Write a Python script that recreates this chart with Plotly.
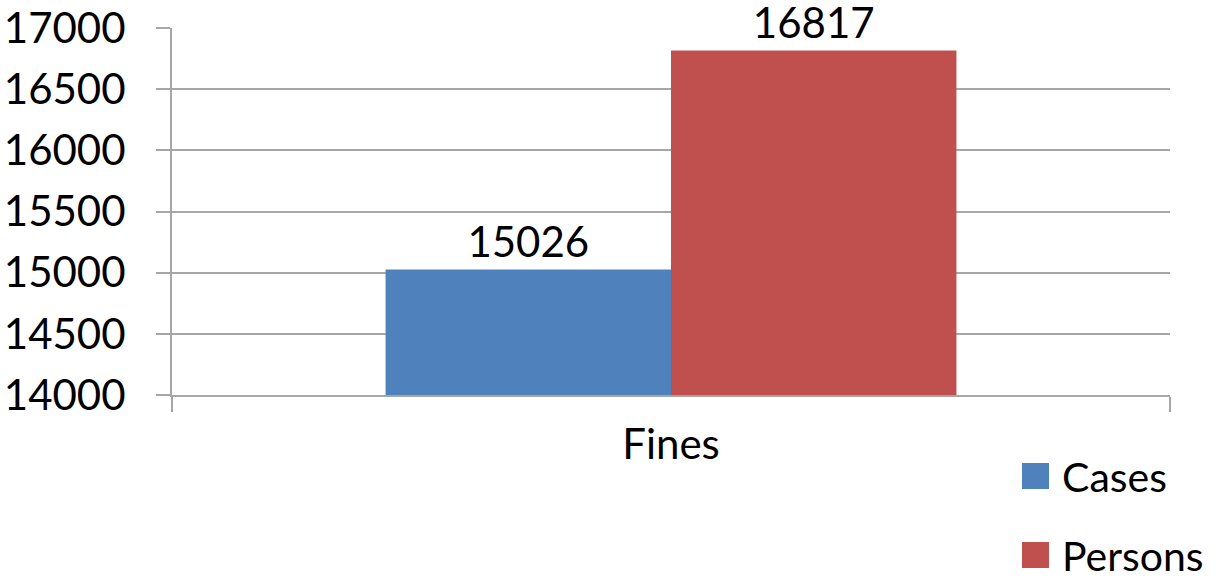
import plotly.graph_objects as go

categories = ["Fines"]
series_names = ["Cases", "Persons"]
cases = [15026]
persons = [16817]
colors = ["#4F81BD", "#C0504D"]
y_ticks = [14000, 14500, 15000, 15500, 16000, 16500, 17000]
y_tick_labels = ["14000", "14500", "15000", "15500", "16000", "16500", "17000"]

FONT = "Lato"
FS = 42
LFS = 41

fig = go.Figure()
for name, vals, col in zip(series_names, [cases, persons], colors):
    fig.add_trace(go.Bar(
        x=categories, y=vals, name=name, marker=dict(color=col, line=dict(width=0)),
        text=[str(v) for v in vals], textposition="outside", cliponaxis=False,
        textfont=dict(family=FONT, size=FS, color="black"), showlegend=False,
    ))

W, H = 1222, 577
L, R, T, B = 172, 1170, 28, 395

def px(xp):
    return (xp - L) / (R - L)

def py(yp):
    return (B - yp) / (B - T)

# legend (manual, to match large symbols)
leg_rows = [476, 555]
for name, col, yc in zip(series_names, colors, leg_rows):
    fig.add_shape(type="rect", xref="paper", yref="paper",
                  x0=px(1022), x1=px(1049), y0=py(yc + 13), y1=py(yc - 13),
                  fillcolor=col, line=dict(width=0))
    fig.add_annotation(xref="paper", yref="paper", x=px(1060), y=py(yc),
                       text=name, showarrow=False, xanchor="left", yanchor="middle",
                       font=dict(family=FONT, size=LFS, color="black"))

fig.update_layout(
    width=W, height=H,
    margin=dict(l=L, r=W - R, t=T, b=H - B, pad=0),
    paper_bgcolor="white", plot_bgcolor="white",
    barmode="group", bargap=0.428, bargroupgap=0,
    font=dict(family=FONT, size=FS, color="black"),
    xaxis=dict(type="category", range=[-0.5, 0.5], tickson="boundaries",
               ticks="outside", ticklen=15, tickcolor="#A6A6A6", tickwidth=2,
               showline=True, linecolor="#A6A6A6", linewidth=2, showgrid=False,
               automargin=False, ticklabelstandoff=12,
               tickfont=dict(family=FONT, size=FS, color="black")),
    yaxis=dict(range=[14000, 17000], tickvals=y_ticks, ticktext=y_tick_labels,
               ticks="outside", ticklen=14,
               tickcolor="#A6A6A6", tickwidth=2, showline=True, linecolor="#A6A6A6",
               linewidth=2, showgrid=True, gridcolor="#A6A6A6", gridwidth=2,
               zeroline=False, ticklabelstandoff=22, automargin=False,
               tickfont=dict(family=FONT, size=FS, color="black")),
)

fig.write_html("out.html", config={"displayModeBar": False},
               post_script="document.body.style.margin='0';document.body.style.overflow='hidden';")
